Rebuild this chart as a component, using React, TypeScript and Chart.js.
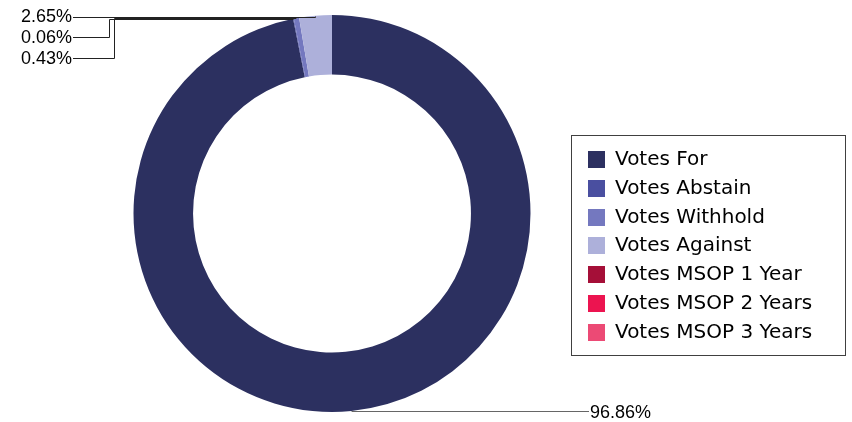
import React, { useEffect, useRef } from "react";
import { Chart, registerables } from "chart.js";

Chart.register(...registerables);

const categories = [
  "Votes For",
  "Votes Abstain",
  "Votes Withhold",
  "Votes Against",
  "Votes MSOP 1 Year",
  "Votes MSOP 2 Years",
  "Votes MSOP 3 Years",
];
const values = [96.86, 0.06, 0.43, 2.65, 0, 0, 0];
const colors = ["#2c3060", "#4a4fa0", "#7478bf", "#adb0da", "#a50f38", "#ec1450", "#ec4a75"];

const labelFont = '18px "Liberation Sans", Arial, sans-serif';
const legendFont = '20px "DejaVu Sans", Verdana, sans-serif';

const overlayPlugin = {
  id: "overlay",
  afterDraw(chart: any) {
    const ctx = chart.ctx as CanvasRenderingContext2D;
    const meta = chart.getDatasetMeta(0);
    const pts: { x: number; y: number }[] = meta.data.map((arc: any) => {
      const p = arc.getProps(["x", "y", "startAngle", "endAngle", "outerRadius"], true);
      const mid = (p.startAngle + p.endAngle) / 2;
      return { x: p.x + Math.cos(mid) * p.outerRadius, y: p.y + Math.sin(mid) * p.outerRadius };
    });
    ctx.save();
    ctx.font = labelFont;
    ctx.textBaseline = "middle";
    ctx.lineWidth = 1;

    // layout of callouts (index -> label placement)
    const topLabels = [
      { idx: 3, ly: 16.5, elbow: null as number | null },
      { idx: 1, ly: 37, elbow: 109.5 },
      { idx: 2, ly: 58, elbow: 114.5 },
    ];
    ctx.strokeStyle = "#222";
    topLabels.forEach((t) => {
      const v = values[t.idx];
      if (!v) return;
      const p = pts[t.idx];
      const ly = Math.round(t.ly) + 0.5;
      const py = Math.round(p.y) + 0.5;
      ctx.beginPath();
      ctx.moveTo(73, ly);
      if (t.elbow === null) {
        ctx.lineTo(Math.round(p.x) + 0.5, ly);
        ctx.lineTo(Math.round(p.x) + 0.5, py);
      } else {
        ctx.lineTo(t.elbow, ly);
        ctx.lineTo(t.elbow, py);
        ctx.lineTo(p.x, py);
      }
      ctx.stroke();
      ctx.fillStyle = "#000";
      ctx.textAlign = "right";
      ctx.fillText(v.toFixed(2) + "%", 72, t.ly + 1);
    });

    // bottom label for main slice
    const p0 = pts[0];
    const y0 = Math.round(p0.y) + 0.5;
    ctx.strokeStyle = "#666";
    ctx.beginPath();
    ctx.moveTo(p0.x, y0);
    ctx.lineTo(589, y0);
    ctx.stroke();
    ctx.fillStyle = "#000";
    ctx.textAlign = "left";
    ctx.fillText(values[0].toFixed(2) + "%", 590, y0 + 1.5);

    // legend
    ctx.strokeStyle = "#404040";
    ctx.strokeRect(571.5, 135.5, 274, 220);
    ctx.font = legendFont;
    ctx.textAlign = "left";
    categories.forEach((c, i) => {
      const top = 151 + i * 28.8;
      ctx.fillStyle = colors[i];
      ctx.fillRect(588, Math.round(top), 17, 17);
      ctx.fillStyle = "#000";
      ctx.fillText(c, 615, Math.round(top) + 9);
    });
    ctx.restore();
  },
};

export default function App() {
  const ref = useRef<HTMLCanvasElement | null>(null);
  useEffect(() => {
    if (!ref.current) return;
    const chart = new Chart(ref.current, {
      type: "doughnut",
      data: {
        labels: categories,
        datasets: [
          {
            data: values,
            backgroundColor: colors,
            borderWidth: 0,
          },
        ],
      },
      options: {
        responsive: false,
        animation: false,
        cutout: "70%",
        layout: { padding: { left: 133.5, right: 321.5, top: 15, bottom: 10 } },
        plugins: { legend: { display: false }, tooltip: { enabled: false } },
      },
      plugins: [overlayPlugin],
    });
    return () => chart.destroy();
  }, []);
  return (
    <div style={{ position: "absolute", left: 0, top: 0, width: 852, height: 422, background: "#fff" }}>
      <canvas ref={ref} width={852} height={422} />
    </div>
  );
}
